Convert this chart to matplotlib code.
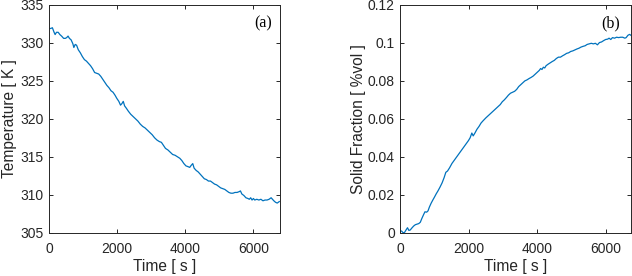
import matplotlib.pyplot as plt

# (a) temperature, values
time_a = [0, 50, 100, 150, 180, 220, 270, 320, 370, 430, 480, 520, 560, 600, 650, 700, 730, 770, 810, 860,
          920, 980, 1040, 1100, 1160, 1220, 1280, 1340, 1400, 1460, 1520, 1580, 1640, 1700, 1760, 1820, 1880,
          1940, 1990, 2050, 2100, 2140, 2180, 2220, 2270, 2330, 2400, 2470, 2540, 2610, 2680, 2750, 2820,
          2890, 2960, 3030, 3100, 3170, 3240, 3300, 3360, 3420, 3490, 3560, 3630, 3700, 3770, 3840, 3900,
          3960, 4020, 4080, 4130, 4180, 4220, 4260, 4320, 4380, 4440, 4500, 4560, 4620, 4680, 4740, 4800,
          4860, 4920, 4980, 5040, 5100, 5160, 5220, 5280, 5340, 5400, 5460, 5520, 5580, 5620, 5660, 5720,
          5780, 5840, 5880, 5920, 5960, 6000, 6040, 6100, 6160, 6220, 6280, 6340, 6400, 6460, 6520, 6560,
          6600, 6650, 6700, 6760]
temp_a = [331.9, 331.9, 332.0, 331.4, 331.1, 331.4, 331.4, 331.1, 330.9, 330.6, 330.6, 330.7, 330.9, 330.6,
          330.4, 329.9, 329.4, 329.8, 329.7, 329.1, 328.7, 328.2, 327.8, 327.6, 327.3, 327.0, 326.6, 326.1,
          326.0, 325.9, 325.6, 325.2, 324.8, 324.4, 324.1, 323.7, 323.5, 323.1, 322.7, 322.3, 321.8, 322.0,
          322.3, 321.7, 321.4, 321.0, 320.6, 320.3, 320.0, 319.7, 319.3, 319.0, 318.8, 318.5, 318.2, 317.9,
          317.5, 317.2, 317.0, 316.9, 316.5, 316.1, 315.9, 315.6, 315.3, 315.2, 315.0, 314.8, 314.5, 314.1,
          313.8, 313.7, 313.6, 313.9, 314.1, 313.5, 313.2, 313.0, 312.7, 312.4, 312.1, 312.0, 311.8, 311.8,
          311.6, 311.4, 311.3, 311.1, 310.9, 310.8, 310.7, 310.5, 310.3, 310.2, 310.2, 310.3, 310.3, 310.4,
          310.5, 310.1, 309.9, 309.6, 309.5, 309.4, 309.6, 309.3, 309.5, 309.3, 309.4, 309.3, 309.4, 309.2,
          309.3, 309.3, 309.4, 309.6, 309.4, 309.2, 309.0, 308.9, 309.1]

# (b) solid fraction
time_b = [0, 40, 80, 120, 160, 210, 250, 290, 340, 390, 440, 490, 540, 585, 630, 680, 720, 770, 810, 850,
          900, 950, 1000, 1050, 1100, 1160, 1220, 1280, 1330, 1380, 1440, 1510, 1570, 1630, 1690, 1750, 1810,
          1870, 1930, 1990, 2040, 2090, 2130, 2180, 2240, 2300, 2360, 2420, 2500, 2560, 2620, 2680, 2740,
          2800, 2860, 2920, 2980, 3040, 3100, 3160, 3220, 3280, 3340, 3400, 3460, 3520, 3580, 3640, 3700,
          3760, 3820, 3880, 3940, 4000, 4060, 4100, 4140, 4180, 4220, 4260, 4320, 4380, 4440, 4500, 4560,
          4620, 4680, 4740, 4800, 4860, 4920, 4980, 5040, 5100, 5160, 5220, 5280, 5340, 5400, 5460, 5520,
          5580, 5640, 5700, 5760, 5820, 5880, 5940, 6000, 6060, 6100, 6150, 6200, 6260, 6320, 6380, 6440,
          6500, 6560, 6600, 6650, 6700, 6740]
frac_b = [0.0010, 0.0008, 0.0000, 0.0000, 0.0012, 0.0026, 0.0012, 0.0014, 0.0025, 0.0035, 0.0042, 0.0045,
          0.0048, 0.0055, 0.0075, 0.0095, 0.0110, 0.0108, 0.0115, 0.0135, 0.0155, 0.0172, 0.0188, 0.0205,
          0.0220, 0.0240, 0.0262, 0.0290, 0.0318, 0.0325, 0.0342, 0.0365, 0.0380, 0.0395, 0.0410, 0.0425,
          0.0440, 0.0455, 0.0470, 0.0485, 0.0500, 0.0525, 0.0510, 0.0525, 0.0545, 0.0560, 0.0578, 0.0590,
          0.0605, 0.0615, 0.0625, 0.0635, 0.0645, 0.0655, 0.0665, 0.0675, 0.0690, 0.0700, 0.0712, 0.0725,
          0.0735, 0.0740, 0.0745, 0.0755, 0.0770, 0.0780, 0.0790, 0.0800, 0.0805, 0.0812, 0.0818, 0.0825,
          0.0835, 0.0845, 0.0855, 0.0865, 0.0860, 0.0872, 0.0868, 0.0880, 0.0888, 0.0895, 0.0902, 0.0908,
          0.0918, 0.0925, 0.0925, 0.0932, 0.0938, 0.0945, 0.0948, 0.0955, 0.0958, 0.0963, 0.0968, 0.0972,
          0.0978, 0.0982, 0.0985, 0.0992, 0.0995, 0.0998, 0.0995, 0.0998, 0.0990, 0.1002, 0.1005, 0.1012,
          0.1018, 0.1020, 0.1025, 0.1018, 0.1028, 0.1025, 0.1030, 0.1028, 0.1030, 0.1030, 0.1025, 0.1028,
          0.1040, 0.1045, 0.1040]

x_ticks = [0, 2000, 4000, 6000]
yticks_a = [305, 310, 315, 320, 325, 330, 335]
yticks_b = [0, 0.02, 0.04, 0.06, 0.08, 0.1, 0.12]
ylabels_b = ['0', '0.02', '0.04', '0.06', '0.08', '0.1', '0.12']

line_col = '#0072BD'
dark = '#262626'
sans = ['Liberation Sans', 'DejaVu Sans']

fig = plt.figure(figsize=(6.32, 2.76), dpi=100)
axA = fig.add_axes([0.0775, 0.157, 0.3655, 0.825])
axB = fig.add_axes([0.6334, 0.157, 0.3655, 0.825])


def style_axes(ax):
    for sp in ax.spines.values():
        sp.set_color(dark)
        sp.set_linewidth(0.7)
    ax.tick_params(direction='in', length=3, width=0.7, colors=dark, top=True, right=True,
                   labelsize=10)
    ax.tick_params(axis='x', pad=6.5)
    ax.tick_params(axis='y', pad=4)
    for lab in ax.get_xticklabels() + ax.get_yticklabels():
        lab.set_family(sans)


axA.plot(time_a, temp_a, color=line_col, lw=0.9)
axA.set_xlim(0, 6780)
axA.set_ylim(305, 335)
axA.set_xticks(x_ticks)
axA.set_yticks(yticks_a)
style_axes(axA)
axA.set_xlabel('Time [ s ]', family=sans, fontsize=11.2, color=dark, labelpad=2.5)
axA.set_ylabel('Temperature [ K ]', family=sans, fontsize=11.2, color=dark, labelpad=2)
axA.text(0.926, 0.917, '(a)', transform=axA.transAxes, ha='center', va='center',
         family=['Liberation Serif', 'DejaVu Serif'], fontsize=11.5, color='black')

axB.plot(time_b, frac_b, color=line_col, lw=0.9)
axB.set_xlim(0, 6750)
axB.set_ylim(0, 0.12)
axB.set_xticks(x_ticks)
axB.set_yticks(yticks_b)
axB.set_yticklabels(ylabels_b)
style_axes(axB)
axB.set_xlabel('Time [ s ]', family=sans, fontsize=11.2, color=dark, labelpad=2.5)
axB.set_ylabel('Solid Fraction [ %vol ]', family=sans, fontsize=11.2, color=dark, labelpad=1)
axB.text(0.912, 0.921, '(b)', transform=axB.transAxes, ha='center', va='center',
         family=['Liberation Serif', 'DejaVu Serif'], fontsize=11.5, color='black')

fig.savefig('out.png', dpi=100)
